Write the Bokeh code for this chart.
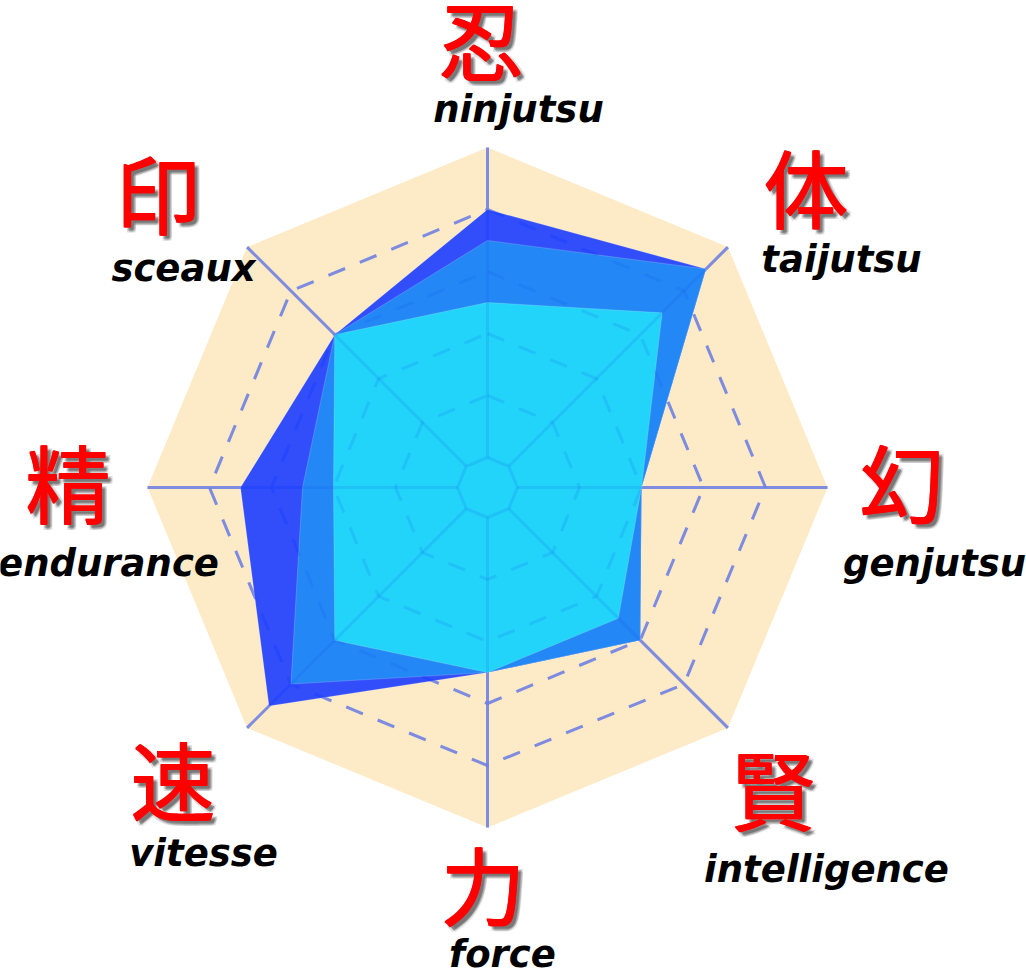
import numpy as np
from bokeh.plotting import figure
from bokeh.models import Range1d, ColumnDataSource
from bokeh.core.properties import value
from bokeh.embed import file_html
from bokeh.resources import INLINE

# ---------------- data ----------------
axes_en = ["ninjutsu", "taijutsu", "genjutsu", "intelligence",
           "force", "vitesse", "endurance", "sceaux"]
axes_kanji = ["忍", "体", "幻", "賢", "力", "速", "精", "印"]
series_dark = [4.0, 4.5, 2.0, 3.0, 2.5, 4.5, 3.5, 3.0]
series_mid = [3.5, 4.5, 2.0, 3.0, 2.5, 4.0, 2.5, 3.0]
series_light = [2.5, 3.5, 2.0, 2.5, 2.5, 3.0, 2.0, 3.0]
grid_levels = [1, 2, 3, 4]
max_level = 5

# ---------------- layout ----------------
PX = 62.0            # pixels per unit
HOLE = 30.0 / PX     # inner hole radius
W, H = 1026, 968
CX, CY = 487, 487    # centre in canvas pixels

# label anchor positions in canvas pixels (layout only)
kanji_pos = [(480, 36), (805, 184), (901, 478), (772, 786),
             (482, 881), (172, 776), (67, 479), (157, 190)]
en_pos = [(518, 109), (841, 259), (934, 563), (826, 869),
          (502, 954), (203, 853), (108, 563), (183, 268)]

def px2d(px, py):
    return (px - CX) / PX, (CY - py) / PX

angles = np.pi / 2 - np.arange(len(axes_en)) * np.pi / 4

def polygon(vals):
    r = HOLE + np.asarray(vals, dtype=float)
    return list(r * np.cos(angles)), list(r * np.sin(angles))

def closed(vals):
    xs, ys = polygon(vals)
    return xs + [xs[0]], ys + [ys[0]]

p = figure(width=W, height=H,
           x_range=Range1d(-CX / PX, (W - CX) / PX),
           y_range=Range1d(-(H - CY) / PX, CY / PX),
           output_backend="svg", toolbar_location=None,
           x_axis_type=None, y_axis_type=None, min_border=0)
p.outline_line_color = None
p.background_fill_color = "white"
p.border_fill_color = "white"
p.xgrid.visible = False
p.ygrid.visible = False

# background octagon
ox, oy = polygon([max_level] * 8)
p.patch(ox, oy, fill_color="#FDEAC7", line_color=None)

def draw_grid(color, alpha):
    for lvl in grid_levels:
        xs, ys = closed([lvl] * 8)
        p.line(xs, ys, line_color=color, line_alpha=alpha, line_width=3,
               line_dash="18 16")
    ix, iy = closed([0] * 8)
    p.line(ix, iy, line_color=color, line_alpha=alpha, line_width=3)
    sx0, sy0 = polygon([0] * 8)
    sx1, sy1 = polygon([max_level] * 8)
    p.segment(x0=sx0, y0=sy0, x1=sx1, y1=sy1, line_color=color,
              line_alpha=alpha, line_width=3)

# grid under the series
draw_grid("#8D96DE", 1.0)

# series polygons
for vals, col in [(series_dark, "#2242FF"), (series_mid, "#228DF5"),
                  (series_light, "#22D9F9")]:
    xs, ys = polygon(vals)
    p.patch(xs, ys, fill_color=col, fill_alpha=0.93,
            line_color="white", line_alpha=0.18, line_width=1)

# faint grid showing through the series
draw_grid("#1040F0", 0.12)

# kanji labels with soft shadow
kx = [px2d(*q)[0] for q in kanji_pos]
ky = [px2d(*q)[1] for q in kanji_pos]
ksrc = ColumnDataSource(dict(x=kx, y=ky, t=axes_kanji))
KFONT = value("Noto Sans CJK JP")
for dx, dy, a in [(6, 6, 0.08), (3, 6, 0.12), (6, 3, 0.12), (4, 4, 0.22), (5, 5, 0.15)]:
    p.text(x="x", y="y", text="t", source=ksrc, x_offset=dx, y_offset=dy,
           text_font=KFONT, text_font_style="normal",
           text_font_size="85px", text_align="center", text_baseline="middle",
           text_color="black", text_alpha=a)
for dx, dy in [(0, 0), (1, 0), (0, 1), (1, 1)]:
    p.text(x="x", y="y", text="t", source=ksrc, x_offset=dx, y_offset=dy,
           text_font=KFONT, text_font_style="normal",
           text_font_size="85px", text_align="center", text_baseline="middle",
           text_color="#FF0000")

# english labels
ex = [px2d(*q)[0] for q in en_pos]
ey = [px2d(*q)[1] for q in en_pos]
esrc = ColumnDataSource(dict(x=ex, y=ey, t=axes_en))
p.text(x="x", y="y", text="t", source=esrc,
       text_font=value("DejaVu Sans"), text_font_style="bold italic",
       text_font_size="37px", text_align="center", text_baseline="alphabetic",
       text_color="black")

open("out.html", "w").write(file_html(p, INLINE))
